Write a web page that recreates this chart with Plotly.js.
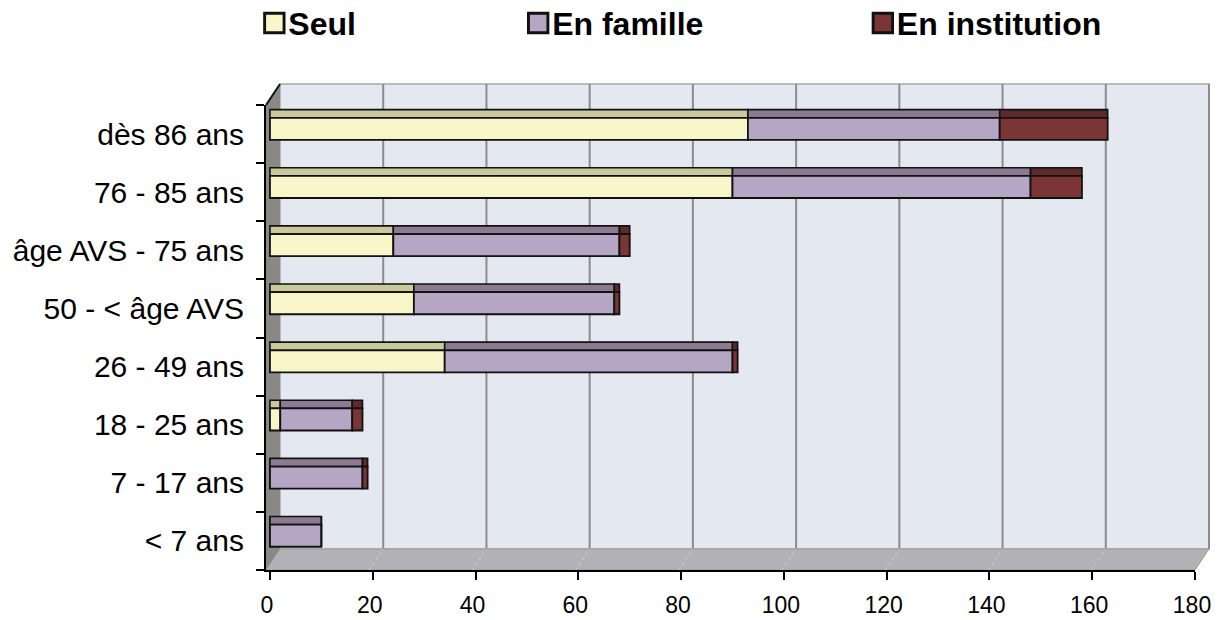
<!DOCTYPE html>
<html>
<head>
<meta charset="utf-8">
<script src="https://cdn.plot.ly/plotly-3.0.1.min.js"></script>
<style>
  html, body { margin: 0; padding: 0; background: #ffffff; }
  #chart { width: 1225px; height: 620px; }
  .legendpoints path { transform: translate(26px, 0px) scale(1.62); }
</style>
</head>
<body>
<div id="chart"></div>
<script>
// ---- data ----
const categories = ["< 7 ans", "7 - 17 ans", "18 - 25 ans", "26 - 49 ans",
                    "50 - < âge AVS", "âge AVS - 75 ans", "76 - 85 ans", "dès 86 ans"];
const seul        = [0, 0, 2, 34, 28, 24, 90, 93];
const famille     = [10, 18, 14, 56, 39, 44, 58, 49];
const institution = [0, 1, 2, 1, 1, 2, 10, 21];
const xTicks      = [0, 20, 40, 60, 80, 100, 120, 140, 160, 180];
const seriesNames = ["Seul", "En famille", "En institution"];

// ---- style ----
const frontColors = ["#F8F6C8", "#B5A6C4", "#7B3535"];
const topColors   = ["#C9C99B", "#8B7A91", "#5E2929"];
const FONT = "Liberation Sans, Arial, sans-serif";
const xMax = 180;
const plotW = 929, plotH = 465;
const dxP = 14 / plotW;   // 3D depth offset (paper units)
const dyP = 21 / plotH;
const pxShift = 4 / (plotW / xMax);  // bars' front face sits ~4px right of the axis

const series = [seul, famille, institution];
const bases = [];
let acc = categories.map(() => 0);
series.forEach(s => { bases.push(acc.slice()); acc = acc.map((v, i) => v + s[i]); });

const traces = [];
// top faces (3D look)
series.forEach((s, k) => {
  traces.push({
    type: "bar", orientation: "h", x: s, y: categories, base: bases[k],
    offset: 0.28, width: 0.14,
    marker: { color: topColors[k], line: { color: "#111111", width: 1.6 } },
    showlegend: false, hoverinfo: "skip"
  });
});
// front faces
const legendIds = ["legend", "legend2", "legend3"];
series.forEach((s, k) => {
  traces.push({
    type: "bar", orientation: "h", x: s, y: categories, base: bases[k],
    name: seriesNames[k],
    offset: -0.1, width: 0.38,
    legend: legendIds[k],
    marker: { color: frontColors[k], line: { color: "#111111", width: 1.8 } }
  });
});

// decoration shapes (walls, floor, back gridlines)
const shapes = [];
shapes.push({ type: "rect", xref: "paper", yref: "paper", x0: dxP, x1: 1 + dxP, y0: dyP, y1: 1 + dyP,
  fillcolor: "#E4E8F1", line: { color: "#A8A8A8", width: 1.5 }, layer: "below" });
xTicks.forEach(t => {
  if (t === 0) return;
  const xp = t / xMax + dxP;
  shapes.push({ type: "line", xref: "paper", yref: "paper", x0: xp, x1: xp, y0: dyP, y1: 1 + dyP,
    line: { color: "#8C8C8C", width: 2 }, layer: "below" });
});
shapes.push({ type: "path", xref: "paper", yref: "paper",
  path: `M 0 0 L ${dxP} ${dyP} L ${dxP} ${1 + dyP} L 0 1 Z`,
  fillcolor: "#8B8784", line: { width: 0 }, layer: "below" });
shapes.push({ type: "path", xref: "paper", yref: "paper",
  path: `M 0 0 L 1 0 L ${1 + dxP} ${dyP} L ${dxP} ${dyP} Z`,
  fillcolor: "#B2B1B6", line: { color: "#9A9A9A", width: 1 }, layer: "below" });
xTicks.forEach(t => {
  if (t === 0 || t === xMax) return;
  const xp = t / xMax;
  shapes.push({ type: "line", xref: "paper", yref: "paper", x0: xp, x1: xp + dxP, y0: 0, y1: dyP,
    line: { color: "#D0D0D0", width: 1, dash: "dot" }, layer: "below" });
});
shapes.push({ type: "line", xref: "paper", yref: "paper", x0: 0, x1: dxP, y0: 1, y1: 1 + dyP,
  line: { color: "#111111", width: 2 }, layer: "above" });

const legendFont = { family: FONT, size: 32, color: "#000000", weight: "bold" };
const legendBase = { orientation: "h", yanchor: "middle", xanchor: "left", y: 1.176,
  font: legendFont, bgcolor: "rgba(0,0,0,0)", borderwidth: 0 };

const layout = {
  width: 1225, height: 620,
  margin: { l: 266, r: 30, t: 105, b: 50, autoexpand: false },
  paper_bgcolor: "#ffffff", plot_bgcolor: "rgba(0,0,0,0)",
  barmode: "overlay",
  showlegend: true,
  legend:  Object.assign({}, legendBase, { x: -0.019 }),
  legend2: Object.assign({}, legendBase, { x: 0.265 }),
  legend3: Object.assign({}, legendBase, { x: 0.636 }),
  xaxis: {
    range: [-pxShift, xMax], tickvals: xTicks, ticktext: xTicks.map(String),
    showgrid: false, zeroline: false, showline: true, linecolor: "#000000", linewidth: 2,
    ticks: "outside", ticklen: 8, tickwidth: 2, tickcolor: "#000000",
    tickfont: { family: FONT, size: 23, color: "#000000" }, ticklabelstandoff: 5,
    ticklabelshift: -3,
    fixedrange: true
  },
  yaxis: {
    type: "category", categoryorder: "array", categoryarray: categories,
    range: [-0.5, categories.length - 0.5],
    showgrid: false, zeroline: false, showline: true, linecolor: "#000000", linewidth: 2,
    ticks: "outside", tickson: "boundaries", ticklen: 8, tickwidth: 2, tickcolor: "#000000",
    tickfont: { family: FONT, size: 30, color: "#000000" }, ticklabelstandoff: 14,
    fixedrange: true
  },
  shapes: shapes
};

Plotly.newPlot("chart", traces, layout, { displayModeBar: false, staticPlot: true });
</script>
</body>
</html>
